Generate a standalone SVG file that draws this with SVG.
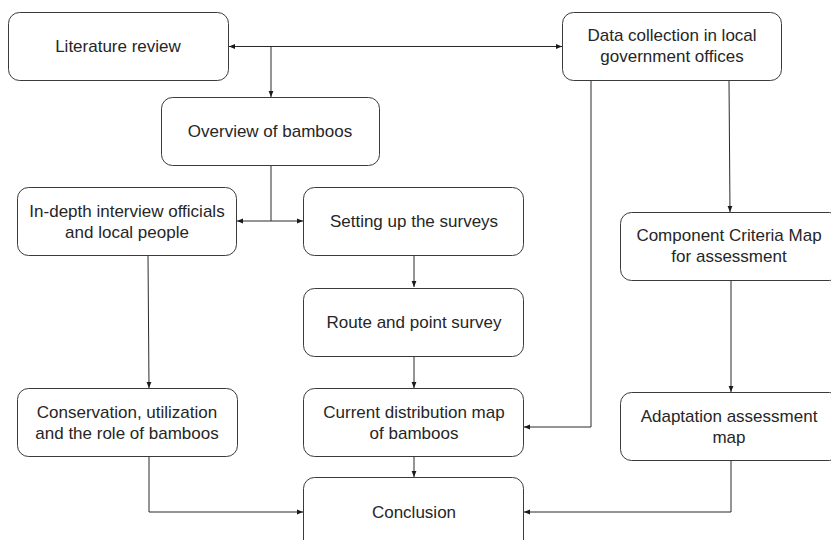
<svg xmlns="http://www.w3.org/2000/svg" width="831" height="540" viewBox="0 0 831 540">
<style>
.box{fill:#fff;stroke:#3a3a3a;stroke-width:1}
.t{font-family:"Liberation Sans",Arial,sans-serif;font-size:17px;fill:#262626;text-anchor:middle}
.c{fill:none;stroke:#2a2a2a;stroke-width:1}
</style>
<defs>
<marker id="a" viewBox="0 0 10 10" refX="10" refY="5" markerWidth="6" markerHeight="6" orient="auto-start-reverse" markerUnits="userSpaceOnUse">
<path d="M0,1 L10,5 L0,9 Z" fill="#1a1a1a"/>
</marker>
</defs>
<rect width="831" height="540" fill="#fff"/>
<g id="connectors">
<path class="c" d="M229,46.5 H562" marker-start="url(#a)" marker-end="url(#a)"/>
<path class="c" d="M271,46.5 V97" marker-end="url(#a)"/>
<path class="c" d="M271,166 V221"/>
<path class="c" d="M237,221 H303" marker-start="url(#a)" marker-end="url(#a)"/>
<path class="c" d="M414,256 V287" marker-end="url(#a)"/>
<path class="c" d="M414,357 V388" marker-end="url(#a)"/>
<path class="c" d="M414,457 V477" marker-end="url(#a)"/>
<path class="c" d="M148,256 L149,388" marker-end="url(#a)"/>
<path class="c" d="M149,457 V512 H303" marker-end="url(#a)"/>
<path class="c" d="M591,81 V427 H524" marker-end="url(#a)"/>
<path class="c" d="M729,81 L730,212" marker-end="url(#a)"/>
<path class="c" d="M731,280 V392" marker-end="url(#a)"/>
<path class="c" d="M731,460 V512 H524" marker-end="url(#a)"/>
</g>
<g id="literature">
<rect class="box" x="8.5" y="12.5" width="220" height="68" rx="11"/>
<text class="t" x="118" y="52">Literature review</text>
</g>
<g id="data-collection">
<rect class="box" x="562.5" y="12.5" width="219" height="68" rx="11"/>
<text class="t" x="672" y="41">Data collection in local</text>
<text class="t" x="672" y="62">government offices</text>
</g>
<g id="overview">
<rect class="box" x="161.5" y="97.5" width="218" height="68" rx="11"/>
<text class="t" x="270" y="137">Overview of bamboos</text>
</g>
<g id="in-depth">
<rect class="box" x="17.5" y="187.5" width="219" height="68" rx="11"/>
<text class="t" x="127" y="217">In-depth interview officials</text>
<text class="t" x="127" y="238">and local people</text>
</g>
<g id="setting-up">
<rect class="box" x="303.5" y="187.5" width="220" height="68" rx="11"/>
<text class="t" x="414" y="227">Setting up the surveys</text>
</g>
<g id="component">
<rect class="box" x="620.5" y="212.5" width="220" height="68" rx="11"/>
<text class="t" x="729" y="241">Component Criteria Map</text>
<text class="t" x="729" y="262">for assessment</text>
</g>
<g id="route">
<rect class="box" x="303.5" y="288.5" width="220" height="68" rx="11"/>
<text class="t" x="414" y="328">Route and point survey</text>
</g>
<g id="conservation">
<rect class="box" x="17.5" y="388.5" width="220" height="68" rx="11"/>
<text class="t" x="127" y="418">Conservation, utilization</text>
<text class="t" x="127" y="439">and the role of bamboos</text>
</g>
<g id="current">
<rect class="box" x="303.5" y="388.5" width="220" height="68" rx="11"/>
<text class="t" x="414" y="418">Current distribution map</text>
<text class="t" x="414" y="439">of bamboos</text>
</g>
<g id="adaptation">
<rect class="box" x="620.5" y="392.5" width="220" height="68" rx="11"/>
<text class="t" x="729" y="422">Adaptation assessment</text>
<text class="t" x="729" y="443">map</text>
</g>
<g id="conclusion">
<rect class="box" x="303.5" y="477.5" width="220" height="75" rx="11"/>
<text class="t" x="414" y="518">Conclusion</text>
</g>
</svg>
